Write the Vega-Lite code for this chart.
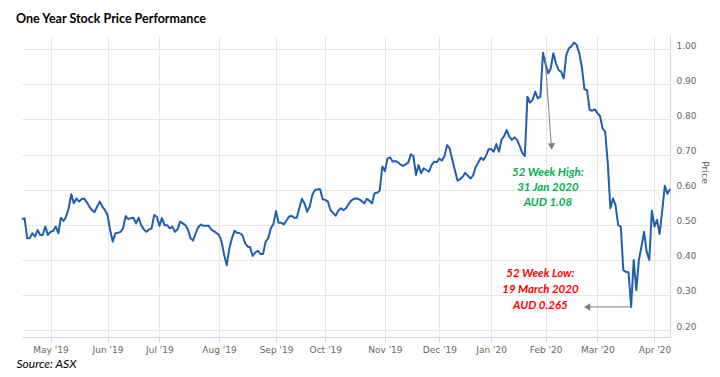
{
  "$schema": "https://vega.github.io/schema/vega-lite/v6.json",
  "width": 648,
  "height": 301,
  "autosize": {"type": "none"},
  "padding": {"left": 22, "top": 36, "right": 50, "bottom": 40},
  "background": "white",
  "title": {"text": "One Year Stock Price Performance", "anchor": "start", "frame": "group", "dx": -6, "offset": 1, "baseline": "alphabetic", "font": "Lato", "fontSize": 12.5, "fontWeight": "bold", "color": "#000000"},
  "config": {"view": {"stroke": null}},
  "encoding": {
    "x": {"field": "day", "type": "quantitative",
      "scale": {"domain": [0, 250], "nice": false, "zero": false},
      "axis": {"values": [11, 33, 53, 76, 98, 117, 140, 161, 181, 202, 222, 244],
        "labelExpr": "[\"May '19\",\"Jun '19\",\"Jul '19\",\"Aug '19\",\"Sep '19\",\"Oct '19\",\"Nov '19\",\"Dec '19\",\"Jan '20\",\"Feb '20\",\"Mar '20\",\"Apr '20\"][indexof([11,33,53,76,98,117,140,161,181,202,222,244], datum.value)]",
        "grid": true, "gridColor": "#e6e6e6", "domainColor": "#ccd6eb", "tickColor": "#ccd6eb", "tickSize": 5,
        "labelPadding": 3, "labelColor": "#666666", "labelFont": "DejaVu Sans", "labelFontSize": 9, "labelFlush": false, "labelOverlap": false,
        "title": "Source: ASX", "titleX": -6, "titleY": 26, "titleAlign": "left", "titleBaseline": "middle", "titleFont": "Lato", "titleFontStyle": "italic", "titleFontWeight": "normal", "titleFontSize": 12, "titleColor": "#000000"}},
    "y": {"field": "price", "type": "quantitative",
      "scale": {"domain": [0.1803, 1.0379], "nice": false, "zero": false},
      "axis": {"orient": "right", "values": [0.2, 0.3, 0.4, 0.5, 0.6, 0.7, 0.8, 0.9, 1.0], "format": ".2f",
        "grid": true, "gridColor": "#e6e6e6", "domain": true, "domainColor": "#ccd6eb", "ticks": false,
        "labelPadding": 6, "labelOffset": -4, "labelColor": "#666666", "labelFont": "DejaVu Sans", "labelFontSize": 9,
        "title": "Price", "titleColor": "#666666", "titleFont": "DejaVu Sans", "titleFontSize": 9.5, "titleFontWeight": "normal",
        "titleX": 34, "titleY": 136, "titleAngle": 90, "titleAlign": "center", "titleBaseline": "middle"}}
  },
  "layer": [
    {
      "data": {"values": [
        {"day":0,"price":0.516},{"day":1,"price":0.519},{"day":2,"price":0.462},{"day":3,"price":0.462},{"day":4,"price":0.476},
        {"day":5,"price":0.466},{"day":6,"price":0.485},{"day":7,"price":0.471},{"day":8,"price":0.471},{"day":9,"price":0.495},
        {"day":10,"price":0.471},{"day":11,"price":0.480},{"day":12,"price":0.482},{"day":13,"price":0.495},{"day":14,"price":0.476},
        {"day":15,"price":0.520},{"day":16,"price":0.511},{"day":17,"price":0.523},{"day":18,"price":0.547},{"day":19,"price":0.587},
        {"day":20,"price":0.561},{"day":21,"price":0.575},{"day":22,"price":0.566},{"day":23,"price":0.573},{"day":24,"price":0.575},
        {"day":25,"price":0.564},{"day":26,"price":0.552},{"day":27,"price":0.542},{"day":28,"price":0.536},{"day":29,"price":0.552},
        {"day":30,"price":0.566},{"day":31,"price":0.552},{"day":32,"price":0.542},{"day":33,"price":0.528},{"day":34,"price":0.485},
        {"day":35,"price":0.452},{"day":36,"price":0.476},{"day":37,"price":0.477},{"day":38,"price":0.480},{"day":39,"price":0.490},
        {"day":40,"price":0.525},{"day":41,"price":0.516},{"day":42,"price":0.519},{"day":43,"price":0.520},{"day":44,"price":0.504},
        {"day":45,"price":0.520},{"day":46,"price":0.499},{"day":47,"price":0.487},{"day":48,"price":0.480},{"day":49,"price":0.487},
        {"day":50,"price":0.490},{"day":51,"price":0.528},{"day":52,"price":0.523},{"day":53,"price":0.497},{"day":54,"price":0.519},
        {"day":55,"price":0.499},{"day":56,"price":0.499},{"day":57,"price":0.490},{"day":58,"price":0.495},{"day":59,"price":0.480},
        {"day":60,"price":0.487},{"day":61,"price":0.509},{"day":62,"price":0.504},{"day":63,"price":0.499},{"day":64,"price":0.487},
        {"day":65,"price":0.462},{"day":66,"price":0.455},{"day":67,"price":0.476},{"day":68,"price":0.493},{"day":69,"price":0.501},
        {"day":70,"price":0.497},{"day":71,"price":0.497},{"day":72,"price":0.497},{"day":73,"price":0.487},{"day":74,"price":0.482},
        {"day":75,"price":0.477},{"day":76,"price":0.471},{"day":77,"price":0.452},{"day":78,"price":0.414},{"day":79,"price":0.385},
        {"day":80,"price":0.433},{"day":81,"price":0.462},{"day":82,"price":0.483},{"day":83,"price":0.477},{"day":84,"price":0.476},
        {"day":85,"price":0.471},{"day":86,"price":0.449},{"day":87,"price":0.438},{"day":88,"price":0.436},{"day":89,"price":0.411},
        {"day":90,"price":0.421},{"day":91,"price":0.426},{"day":92,"price":0.417},{"day":93,"price":0.417},{"day":94,"price":0.452},
        {"day":95,"price":0.462},{"day":96,"price":0.490},{"day":97,"price":0.502},{"day":98,"price":0.539},{"day":99,"price":0.506},
        {"day":100,"price":0.506},{"day":101,"price":0.501},{"day":102,"price":0.512},{"day":103,"price":0.523},{"day":104,"price":0.526},
        {"day":105,"price":0.520},{"day":106,"price":0.520},{"day":107,"price":0.547},{"day":108,"price":0.574},{"day":109,"price":0.561},
        {"day":110,"price":0.537},{"day":111,"price":0.552},{"day":112,"price":0.585},{"day":113,"price":0.599},{"day":114,"price":0.601},
        {"day":115,"price":0.601},{"day":116,"price":0.573},{"day":117,"price":0.571},{"day":118,"price":0.566},{"day":119,"price":0.542},
        {"day":120,"price":0.534},{"day":121,"price":0.526},{"day":122,"price":0.540},{"day":123,"price":0.547},{"day":124,"price":0.542},
        {"day":125,"price":0.547},{"day":126,"price":0.559},{"day":127,"price":0.569},{"day":128,"price":0.574},{"day":129,"price":0.575},
        {"day":130,"price":0.573},{"day":131,"price":0.568},{"day":132,"price":0.561},{"day":133,"price":0.574},{"day":134,"price":0.569},
        {"day":135,"price":0.561},{"day":136,"price":0.590},{"day":137,"price":0.591},{"day":138,"price":0.597},{"day":139,"price":0.666},
        {"day":140,"price":0.653},{"day":141,"price":0.689},{"day":142,"price":0.692},{"day":143,"price":0.680},{"day":144,"price":0.682},
        {"day":145,"price":0.678},{"day":146,"price":0.672},{"day":147,"price":0.668},{"day":148,"price":0.672},{"day":149,"price":0.677},
        {"day":150,"price":0.701},{"day":151,"price":0.696},{"day":152,"price":0.642},{"day":153,"price":0.670},{"day":154,"price":0.647},
        {"day":155,"price":0.661},{"day":156,"price":0.656},{"day":157,"price":0.651},{"day":158,"price":0.670},{"day":159,"price":0.680},
        {"day":160,"price":0.678},{"day":161,"price":0.689},{"day":162,"price":0.683},{"day":163,"price":0.696},{"day":164,"price":0.727},
        {"day":165,"price":0.718},{"day":166,"price":0.685},{"day":167,"price":0.656},{"day":168,"price":0.626},{"day":169,"price":0.630},
        {"day":170,"price":0.637},{"day":171,"price":0.648},{"day":172,"price":0.640},{"day":173,"price":0.632},{"day":174,"price":0.640},
        {"day":175,"price":0.664},{"day":176,"price":0.677},{"day":177,"price":0.691},{"day":178,"price":0.685},{"day":179,"price":0.696},
        {"day":180,"price":0.715},{"day":181,"price":0.716},{"day":182,"price":0.708},{"day":183,"price":0.730},{"day":184,"price":0.708},
        {"day":185,"price":0.742},{"day":186,"price":0.753},{"day":187,"price":0.770},{"day":188,"price":0.751},{"day":189,"price":0.742},
        {"day":190,"price":0.749},{"day":191,"price":0.742},{"day":192,"price":0.725},{"day":193,"price":0.705},{"day":194,"price":0.696},
        {"day":195,"price":0.865},{"day":196,"price":0.848},{"day":197,"price":0.856},{"day":198,"price":0.879},{"day":199,"price":0.860},
        {"day":200,"price":0.865},{"day":201,"price":0.990},{"day":202,"price":0.957},{"day":203,"price":0.932},{"day":204,"price":0.946},
        {"day":205,"price":0.989},{"day":206,"price":0.960},{"day":207,"price":0.941},{"day":208,"price":0.936},{"day":209,"price":0.917},
        {"day":210,"price":0.984},{"day":211,"price":1.003},{"day":212,"price":1.009},{"day":213,"price":1.019},{"day":214,"price":1.012},
        {"day":215,"price":0.989},{"day":216,"price":0.949},{"day":217,"price":0.886},{"day":218,"price":0.884},{"day":219,"price":0.827},
        {"day":220,"price":0.825},{"day":221,"price":0.829},{"day":222,"price":0.818},{"day":223,"price":0.810},{"day":224,"price":0.775},
        {"day":225,"price":0.765},{"day":226,"price":0.675},{"day":227,"price":0.547},{"day":228,"price":0.575},{"day":229,"price":0.556},
        {"day":230,"price":0.499},{"day":231,"price":0.495},{"day":232,"price":0.371},{"day":233,"price":0.366},{"day":234,"price":0.365},
        {"day":235,"price":0.265},{"day":236,"price":0.400},{"day":237,"price":0.314},{"day":238,"price":0.400},{"day":239,"price":0.438},
        {"day":240,"price":0.480},{"day":241,"price":0.423},{"day":242,"price":0.400},{"day":243,"price":0.540},{"day":244,"price":0.495},
        {"day":245,"price":0.514},{"day":246,"price":0.474},{"day":247,"price":0.540},{"day":248,"price":0.611},{"day":249,"price":0.588},
        {"day":250,"price":0.602}
      ]},
      "mark": {"type": "line", "color": "#1f5fb0", "strokeWidth": 2, "strokeJoin": "round"}
    },
    {
      "data": {"values": [
        {"kind": "high", "day": 201.8, "price": 0.978, "day2": 204.2, "price2": 0.725},
        {"kind": "low", "day": 218.5, "price": 0.266, "day2": 235.3, "price2": 0.266}
      ]},
      "mark": {"type": "rule", "color": "#7f7f7f", "strokeWidth": 1},
      "encoding": {"x2": {"field": "day2"}, "y2": {"field": "price2"}}
    },
    {
      "data": {"values": [{"kind": "high", "day": 204.3, "price": 0.723}]},
      "mark": {"type": "point", "shape": "triangle-down", "filled": true, "color": "#7f7f7f", "size": 55, "angle": -4, "opacity": 1}
    },
    {
      "data": {"values": [{"kind": "low", "day": 218.0, "price": 0.266}]},
      "mark": {"type": "point", "shape": "triangle-left", "filled": true, "color": "#7f7f7f", "size": 55, "opacity": 1}
    },
    {
      "data": {"values": [
        {"kind": "high", "day": 202.9, "price": 0.647, "label": "52 Week High:"},
        {"kind": "high", "day": 202.9, "price": 0.604, "label": "31 Jan 2020"},
        {"kind": "high", "day": 202.9, "price": 0.561, "label": "AUD 1.08"},
        {"kind": "low", "day": 200.0, "price": 0.360, "label": "52 Week Low:"},
        {"kind": "low", "day": 200.0, "price": 0.314, "label": "19 March 2020"},
        {"kind": "low", "day": 200.0, "price": 0.270, "label": "AUD 0.265"}
      ]},
      "mark": {"type": "text", "font": "Lato", "fontStyle": "italic", "fontWeight": "bold", "fontSize": 11.5, "align": "center", "baseline": "middle"},
      "encoding": {
        "text": {"field": "label", "type": "nominal"},
        "color": {"field": "kind", "type": "nominal", "scale": {"domain": ["high", "low"], "range": ["#00b050", "#ff0000"]}, "legend": null}
      }
    }
  ]
}
